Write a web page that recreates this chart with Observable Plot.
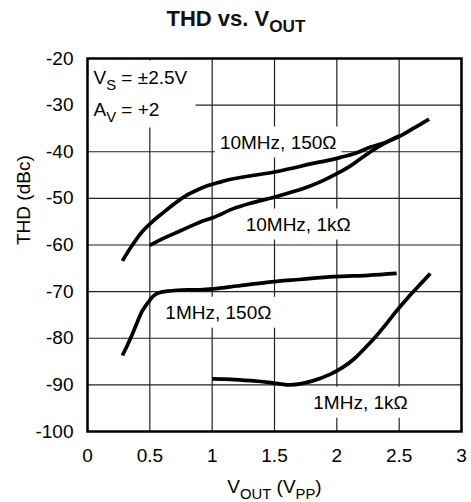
<!DOCTYPE html>
<html><head><meta charset="utf-8">
<script src="https://cdn.jsdelivr.net/npm/d3@7"></script>
<script src="https://cdn.jsdelivr.net/npm/@observablehq/plot@0.6"></script>
<style>
body{margin:0;background:#fff}
svg{font-family:"Liberation Sans",Arial,Helvetica,sans-serif}
</style>
</head><body><div id="chart"></div>
<script>
// ---- data ----
const xTicks = [0, 0.5, 1, 1.5, 2, 2.5, 3];
const yTicks = [-100, -90, -80, -70, -60, -50, -40, -30, -20];

const seriesNames = ["10MHz, 150Ω", "10MHz, 1kΩ", "1MHz, 150Ω", "1MHz, 1kΩ"];

const vout10M150 = [0.28,0.36,0.44,0.52,0.61,0.70,0.79,0.88,0.96,1.05,1.15,1.3,1.49,1.65,1.79,1.92,2.03,2.15,2.27,2.4,2.51,2.62,2.74];
const thd10M150  = [-63.4,-60,-57.1,-55,-53.0,-51.1,-49.4,-48.2,-47.3,-46.6,-45.9,-45.2,-44.4,-43.5,-42.6,-41.9,-41.2,-40.3,-39.0,-37.9,-36.6,-34.9,-33.0];

const vout10M1k = [0.5,0.6,0.75,0.9,1.01,1.17,1.3,1.49,1.62,1.76,1.88,2.0,2.1,2.19,2.27,2.35,2.43,2.5];
const thd10M1k  = [-60.1,-58.7,-56.9,-55.1,-54.1,-52.2,-51.1,-49.8,-48.8,-47.6,-46.3,-44.7,-43.2,-41.5,-40.0,-38.7,-37.5,-36.6];

const vout1M150 = [0.28,0.32,0.36,0.40,0.44,0.49,0.53,0.58,0.64,0.72,0.8,0.9,1.01,1.2,1.44,1.7,1.98,2.25,2.48];
const thd1M150  = [-83.7,-81.5,-79.1,-76.5,-74.1,-72.2,-70.9,-70.2,-69.9,-69.7,-69.6,-69.6,-69.4,-68.8,-68.0,-67.4,-66.8,-66.5,-66.1];

const vout1M1k = [1.0,1.15,1.31,1.47,1.63,1.8,1.95,2.05,2.14,2.23,2.32,2.4,2.48,2.57,2.66,2.75];
const thd1M1k  = [-88.7,-88.8,-89.1,-89.5,-90.0,-89.2,-87.7,-86.2,-84.4,-82.0,-79.4,-76.8,-74.1,-71.3,-68.7,-66.1];

const labelText = ["10MHz, 150Ω", "10MHz, 1kΩ", "1MHz, 150Ω", "1MHz, 1kΩ"];
const labelX = [1.53, 1.69, 1.05, 2.19];
const labelY = [-38.0, -55.6, -74.5, -93.8];

const titleText = "THD vs. V_{OUT}";
const xLabelText = "V_{OUT} (V_{PP})";
const yLabelText = "THD (dBc)";
const annoLine1 = "V_{S} = ±2.5V";
const annoLine2 = "A_{V} = +2";

// ---- tables for the library ----
const seriesX = [vout10M150, vout10M1k, vout1M150, vout1M1k];
const seriesY = [thd10M150, thd10M1k, thd1M150, thd1M1k];
const rows = seriesNames.flatMap((name, s) =>
  seriesX[s].map((v, i) => ({series: name, vout: v, thd: seriesY[s][i]})));
const labels = labelText.map((t, i) => ({text: t, x: labelX[i], y: labelY[i]}));

const W = 471, H = 502, mL = 87, mR = 10, mT = 58, mB = 71;
const FS = 19;

function annoMarks(box) {
  const opt = box ? {ariaDescription: "anno-box", fill: "#fff"} : {fill: "#000"};
  return [
    Plot.text([annoLine1], {text: d => d, frameAnchor: "top-left", dx: 6, dy: 25, lineAnchor: "bottom", textAnchor: "start", fontSize: FS, ...opt}),
    Plot.text([annoLine2], {text: d => d, frameAnchor: "top-left", dx: 6, dy: 57, lineAnchor: "bottom", textAnchor: "start", fontSize: FS, ...opt})
  ];
}

const chart = Plot.plot({
  width: W, height: H,
  marginLeft: mL, marginRight: mR, marginTop: mT, marginBottom: mB,
  style: {fontSize: FS + "px", color: "#000", background: "#fff", overflow: "visible"},
  x: {domain: [0, 3], ticks: xTicks, tickFormat: d => String(d), label: null, tickSize: 0, tickPadding: 17},
  y: {domain: [-100, -20], ticks: yTicks, tickFormat: d => String(d), label: null, tickSize: 0, tickPadding: 14},
  marks: [
    Plot.gridX(xTicks, {stroke: "#222", strokeOpacity: 1, strokeWidth: 1.2}),
    Plot.gridY(yTicks, {stroke: "#222", strokeOpacity: 1, strokeWidth: 1.2}),
    Plot.text(labels, {x: "x", y: "y", text: "text", fontSize: FS, fill: "#fff", ariaDescription: "label-box"}),
    ...annoMarks(true),
    Plot.line(rows, {x: "vout", y: "thd", z: "series", stroke: "#000", strokeWidth: 3.7, curve: "catmull-rom", strokeLinecap: "butt"}),
    Plot.text(labels, {x: "x", y: "y", text: "text", fontSize: FS, fill: "#000"}),
    ...annoMarks(false),
    Plot.text([titleText], {text: d => d, frameAnchor: "top", dx: -(mL - mR) / 2, dy: -(mT - 25), lineAnchor: "bottom", fontWeight: "bold", fontSize: 22, fill: "#111"}),
    Plot.text([xLabelText], {text: d => d, frameAnchor: "bottom", dy: 61, lineAnchor: "bottom", fontSize: FS, fill: "#000"}),
    Plot.text([yLabelText], {text: d => d, frameAnchor: "left", dx: -64, rotate: -90, fontSize: FS, fill: "#000"}),
    Plot.frame({stroke: "#000", strokeWidth: 2.5})
  ]
});

document.getElementById("chart").appendChild(chart);

// subscripts: "_{...}" -> shifted, smaller tspans
const SVGNS = "http://www.w3.org/2000/svg";
chart.querySelectorAll("text").forEach(t => {
  const s = t.textContent;
  if (!s.includes("_{")) return;
  const parts = s.split(/(_\{[^}]*\})/).filter(p => p.length);
  t.textContent = "";
  let shifted = false;
  const shift = 6;
  parts.forEach(p => {
    const ts = document.createElementNS(SVGNS, "tspan");
    if (p.startsWith("_{")) {
      ts.textContent = p.slice(2, -1);
      ts.setAttribute("font-size", "0.78em");
      ts.setAttribute("dy", shift);
      shifted = true;
    } else {
      ts.textContent = p;
      if (shifted) { ts.setAttribute("dy", -shift); shifted = false; }
    }
    t.appendChild(ts);
  });
});

function markGroups(name) {
  return Array.from(chart.querySelectorAll(`g[aria-description="${name}"], g[aria-label="${name}"]`));
}

// white boxes behind curve labels (hide grid, sit under the curves)
markGroups("label-box").forEach(g => {
  Array.from(g.querySelectorAll("text")).forEach(t => {
    const b = t.getBBox();
    const r = document.createElementNS(SVGNS, "rect");
    const px = 5, py = 5;
    r.setAttribute("x", b.x - px);
    r.setAttribute("y", b.y - py);
    r.setAttribute("width", b.width + 2 * px);
    r.setAttribute("height", b.height + 2 * py);
    r.setAttribute("fill", "#fff");
    const tr = t.getAttribute("transform");
    if (tr) r.setAttribute("transform", tr);
    g.insertBefore(r, t);
    t.remove();
  });
});

// one white box behind the two-line annotation
(function () {
  const gs = markGroups("anno-box");
  if (!gs.length) return;
  const sr = chart.getBoundingClientRect();
  let x0 = Infinity, y0 = Infinity, x1 = -Infinity, y1 = -Infinity;
  gs.forEach(g => g.querySelectorAll("text").forEach(t => {
    const b = t.getBoundingClientRect();
    x0 = Math.min(x0, b.left - sr.left); y0 = Math.min(y0, b.top - sr.top);
    x1 = Math.max(x1, b.right - sr.left); y1 = Math.max(y1, b.bottom - sr.top);
  }));
  const r = document.createElementNS(SVGNS, "rect");
  r.setAttribute("x", x0 - 6); r.setAttribute("y", y0 - 6);
  r.setAttribute("width", x1 - x0 + 14); r.setAttribute("height", y1 - y0 + 9);
  r.setAttribute("fill", "#fff");
  gs[0].parentNode.insertBefore(r, gs[0]);
  gs.forEach(g => g.remove());
})();
</script>
</body></html>
